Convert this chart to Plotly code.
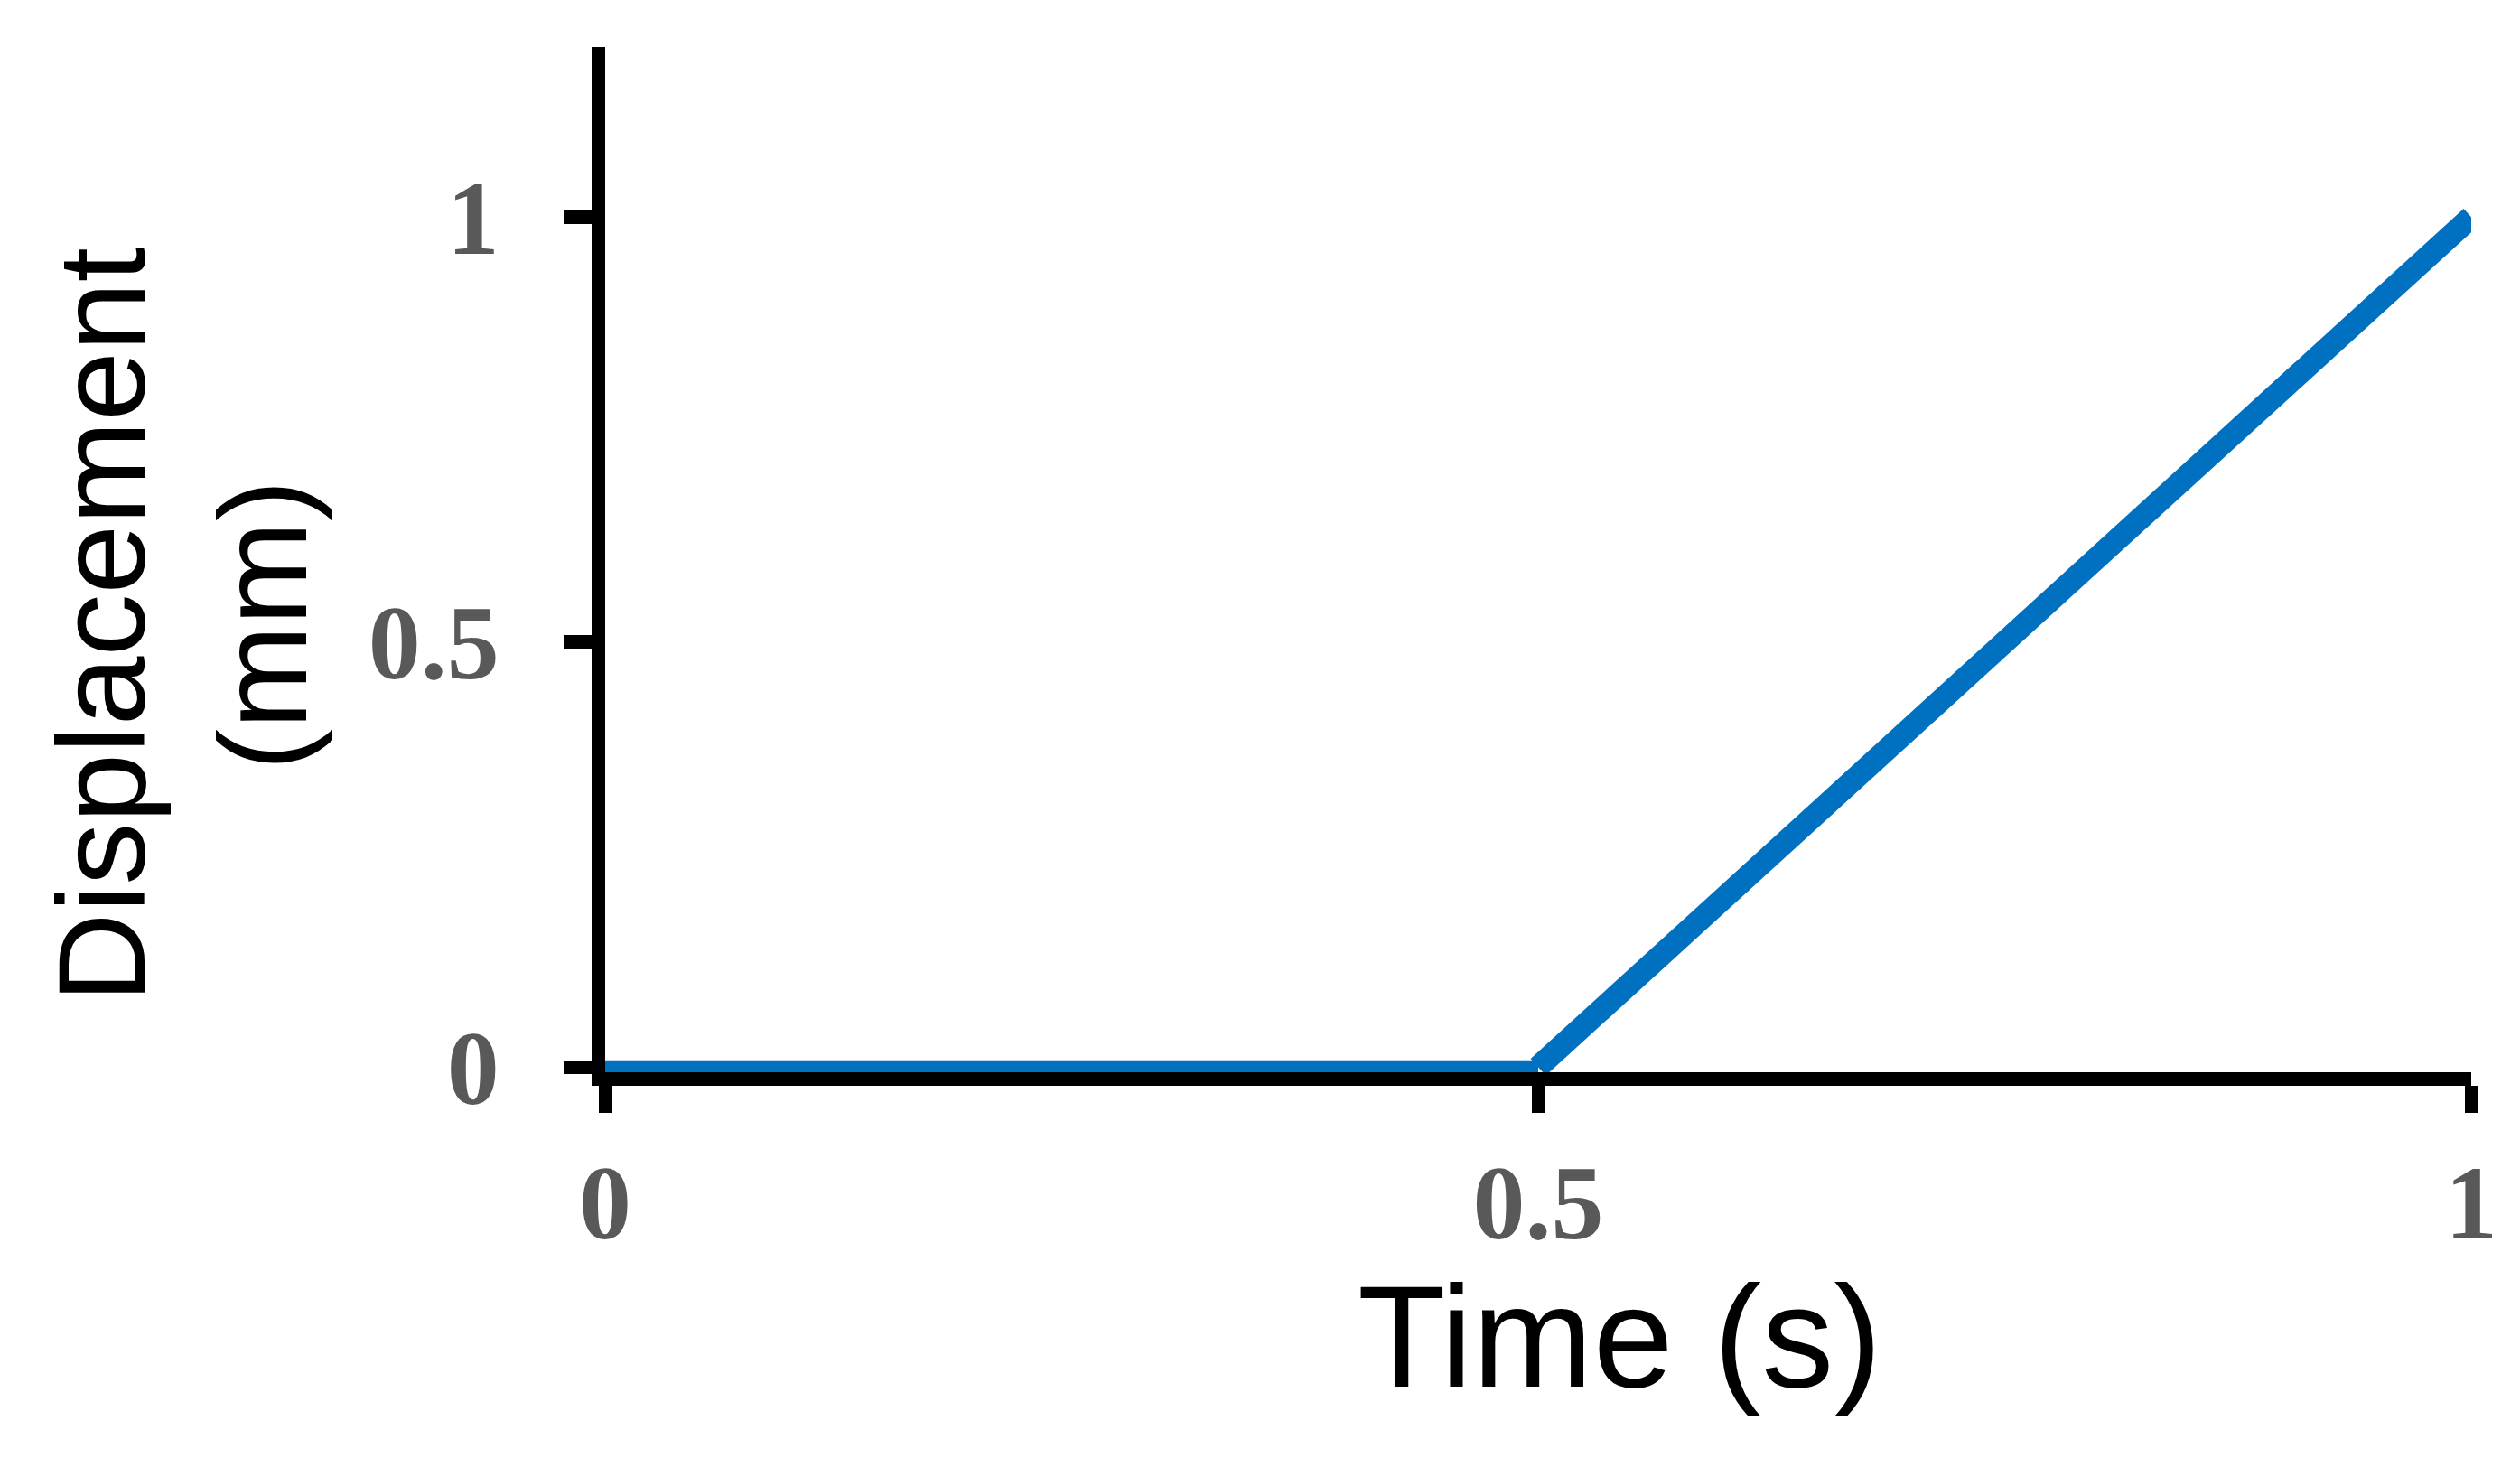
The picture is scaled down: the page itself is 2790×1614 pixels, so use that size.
import plotly.graph_objects as go

# flat part and ramp part of the displacement history
hold_time_s = [0, 0.5]
hold_displacement_mm = [0, 0]
ramp_time_s = [0.5, 1]
ramp_displacement_mm = [0, 1]
x_ticks = [0, 0.5, 1]
x_tick_labels = ["0", "0.5", "1"]
y_ticks = [0, 0.5, 1]
y_tick_labels = ["0", "0.5", "1"]

blue = "#0070C0"

fig = go.Figure()
fig.add_trace(
    go.Scatter(
        x=hold_time_s,
        y=hold_displacement_mm,
        mode="lines",
        line={"color": blue, "width": 15},
        showlegend=False,
    )
)
fig.add_trace(
    go.Scatter(
        x=ramp_time_s,
        y=ramp_displacement_mm,
        mode="lines",
        line={"color": blue, "width": 25},
        showlegend=False,
    )
)

tick_font = {"family": "Liberation Serif", "size": 116, "color": "#595959", "weight": "bold"}
title_font = {"family": "Liberation Sans", "color": "black"}

fig.update_layout(
    width=2790,
    height=1614,
    margin={"l": 662, "r": 62, "t": 44, "b": 435},
    paper_bgcolor="white",
    plot_bgcolor="white",
    annotations=[
        {
            "text": "Time (s)",
            "xref": "x",
            "yref": "paper",
            "x": 0.544,
            "y": 0,
            "yshift": -292,
            "yanchor": "middle",
            "showarrow": False,
            "font": {**title_font, "size": 160},
        },
        {
            "text": "Displacement<br>(mm)",
            "textangle": -90,
            "xref": "paper",
            "yref": "y",
            "x": 0,
            "y": 0.52,
            "xshift": -468,
            "xanchor": "center",
            "yanchor": "middle",
            "showarrow": False,
            "font": {**title_font, "size": 138},
        },
    ],
)
fig.update_xaxes(
    range=[0, 1],
    tickvals=x_ticks,
    ticktext=x_tick_labels,
    tickfont=tick_font,
    showline=True,
    linecolor="black",
    linewidth=15,
    ticks="outside",
    ticklen=30,
    tickwidth=15,
    tickcolor="black",
    showgrid=False,
    zeroline=False,
    ticklabelstandoff=0,
    layer="below traces",
)
fig.update_yaxes(
    range=[-0.006, 1.2],
    tickvals=y_ticks,
    ticktext=y_tick_labels,
    tickfont=tick_font,
    showline=True,
    linecolor="black",
    linewidth=15,
    ticks="outside",
    ticklen=31,
    tickwidth=15,
    tickcolor="black",
    showgrid=False,
    zeroline=False,
    ticklabelstandoff=48,
    layer="below traces",
)

fig.write_html("out.html")
